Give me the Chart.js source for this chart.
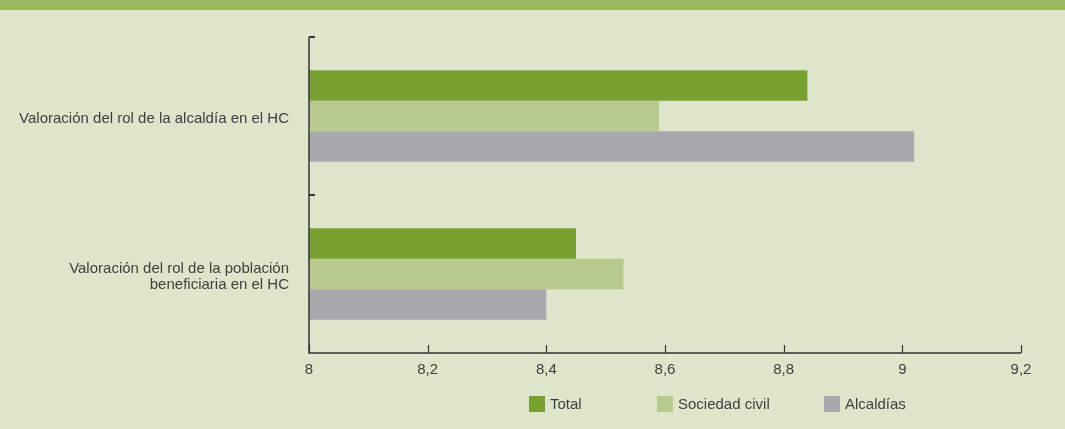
<!DOCTYPE html>
<html>
<head>
<meta charset="utf-8">
<script src="https://cdn.jsdelivr.net/npm/chart.js@4"></script>
<style>
  html, body { margin: 0; padding: 0; }
  body { width: 1065px; height: 429px; background: #dde6ca; position: relative; overflow: hidden; }
  #band { position: absolute; left: 0; top: 0; width: 1065px; height: 10px; background: #9cb964; }
  #wrap { position: absolute; left: 0; top: 0; width: 1065px; height: 429px; }
  #legend { position: absolute; top: 396px; left: 0; font-family: "Liberation Sans", Arial, sans-serif; font-size: 15px; color: #3f3f3f; }
  #legend span.item { position: absolute; white-space: nowrap; line-height: 16px; }
  #legend i { display: inline-block; width: 16px; height: 16px; vertical-align: top; margin-right: 5px; }
</style>
</head>
<body>
<div id="band"></div>
<div id="wrap"><canvas id="chart"></canvas></div>
<div id="legend"></div>
<script>
const categories = [
    'Valoración del rol de la alcaldía en el HC',
    ['Valoración del rol de la población', 'beneficiaria en el HC']
];
const seriesNames = ['Total', 'Sociedad civil', 'Alcaldías'];
const totalValues = [8.84, 8.45];
const sociedadValues = [8.59, 8.53];
const alcaldiasValues = [9.02, 8.40];
const xTicks = [8, 8.2, 8.4, 8.6, 8.8, 9, 9.2];

const totalColor = '#78a132';
const sociedadColor = '#b7c98d';
const alcaldiasColor = '#a8a9ad';
const axisColor = '#333333';

// axis lines and inward ticks, placed from the chart's own scales
const axisPlugin = {
    id: 'axisLines',
    afterDraw(chart) {
        const ctx = chart.ctx;
        const x = chart.scales.x;
        const y = chart.scales.y;
        const area = chart.chartArea;
        ctx.save();
        ctx.strokeStyle = axisColor;
        ctx.lineWidth = 1.5;
        ctx.beginPath();
        ctx.moveTo(area.left, area.top);
        ctx.lineTo(area.left, area.bottom);
        ctx.lineTo(area.right, area.bottom);
        ctx.stroke();
        ctx.lineWidth = 1.2;
        xTicks.forEach(v => {
            const px = Math.round(x.getPixelForValue(v)) + 0.5;
            ctx.beginPath();
            ctx.moveTo(px, area.bottom);
            ctx.lineTo(px, area.bottom - 8);
            ctx.stroke();
        });
        ctx.lineWidth = 2;
        const step = y.getPixelForValue(1) - y.getPixelForValue(0);
        for (let i = 0; i < categories.length; i++) {
            const py = Math.round(y.getPixelForValue(i) - step / 2);
            ctx.beginPath();
            ctx.moveTo(area.left, py);
            ctx.lineTo(area.left + 6, py);
            ctx.stroke();
        }
        ctx.restore();
    }
};

const chart = new Chart(document.getElementById('chart'), {
    type: 'bar',
    data: {
        labels: categories,
        datasets: [{
            label: seriesNames[0],
            data: totalValues,
            backgroundColor: totalColor
        },
        {
            label: seriesNames[1],
            data: sociedadValues,
            backgroundColor: sociedadColor
        },
        {
            label: seriesNames[2],
            data: alcaldiasValues,
            backgroundColor: alcaldiasColor
        }]
    },
    options: {
        indexAxis: 'y',
        responsive: true,
        maintainAspectRatio: false,
        animation: false,
        categoryPercentage: 0.58,
        barPercentage: 1,
        layout: {
            padding: { top: 37, right: 44, bottom: 46, left: 0 }
        },
        plugins: {
            legend: { display: false },
            tooltip: { enabled: false }
        },
        scales: {
            x: {
                min: 8,
                max: 9.2,
                afterBuildTicks: (scale) => {
                    scale.ticks = xTicks.map(v => ({ value: v }));
                },
                afterFit: (scale) => { scale.height = 30; },
                grid: { display: false },
                border: { display: false },
                ticks: {
                    color: '#3f3f3f',
                    padding: 0,
                    font: { family: '"Liberation Sans", Arial, sans-serif', size: 15 },
                    callback: (value) => String(Math.round(value * 10) / 10).replace('.', ',')
                }
            },
            y: {
                afterFit: (scale) => { scale.width = 309; },
                grid: { display: false },
                border: { display: false },
                ticks: {
                    color: '#3f3f3f',
                    padding: 12,
                    labelOffset: 3,
                    font: { family: '"Liberation Sans", Arial, sans-serif', size: 15, lineHeight: 1.05 }
                }
            }
        }
    },
    plugins: [axisPlugin]
});

const legendEl = document.getElementById('legend');
const legendLefts = [529, 657, 824];
chart.data.datasets.forEach((ds, i) => {
    const item = document.createElement('span');
    item.className = 'item';
    item.style.left = legendLefts[i] + 'px';
    item.innerHTML = '<i style="background:' + ds.backgroundColor + '"></i>' + ds.label;
    legendEl.appendChild(item);
});
</script>
</body>
</html>
